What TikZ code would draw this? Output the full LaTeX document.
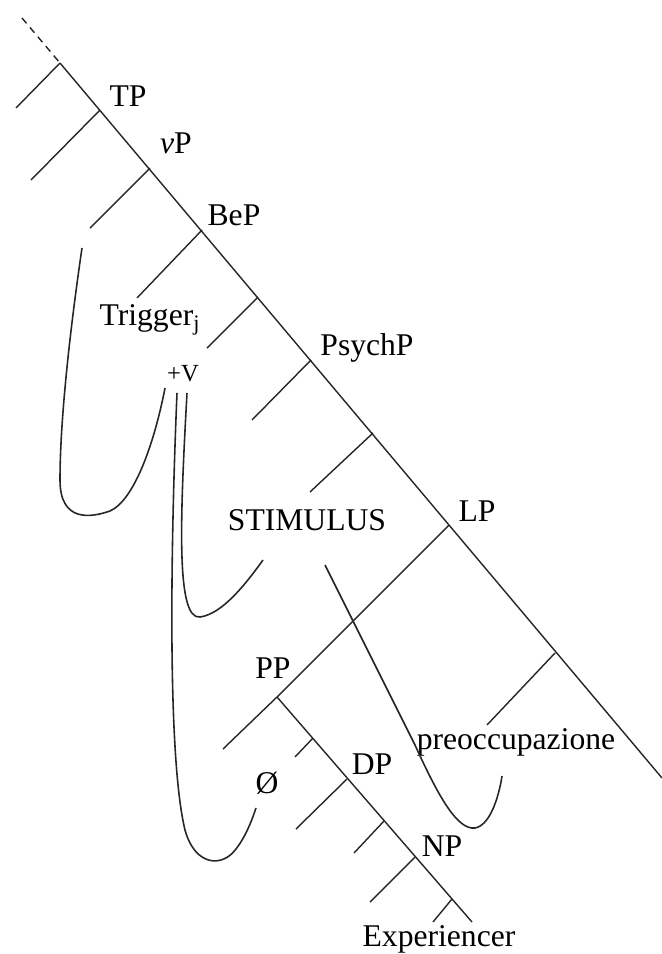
\documentclass[tikz,border=0pt]{standalone}
\usepackage{fontspec}
\setmainfont{Liberation Serif}
\usepackage{tikz}
\usetikzlibrary{positioning, calc}
\tikzset{
    branch/.style={line width=0.8pt, black!85},
    movecurve/.style={line width=0.9pt, black!85},
    lbl/.style={inner sep=0pt, font=\fontsize{18}{20}\selectfont},
    smalllbl/.style={inner sep=0pt, font=\fontsize{14}{16}\selectfont},
}
\begin{document}
\begin{tikzpicture}[x=0.02cm, y=-0.02cm]
    \useasboundingbox (0,0) rectangle (662,954);

    % Spine
    \coordinate (d0) at (22,18);
    \coordinate (s0) at (60,63);
    \coordinate (s1) at (100,110);
    \coordinate (s2) at (150,168);
    \coordinate (s3) at (202,230);
    \coordinate (s4) at (258,297);
    \coordinate (s5) at (311,360);
    \coordinate (s6) at (373,433);
    \coordinate (s7) at (449,525);
    \coordinate (s8) at (555,653);
    \coordinate (s9) at (662,778);
    \draw[branch, dash pattern=on 4pt off 3pt] (d0) -- (s0);
    \draw[branch] (s0) -- (s9);

    % Left daughters
    \coordinate (b0) at (16,108);
    \coordinate (b1) at (31,180);
    \coordinate (b2) at (90,228);
    \coordinate (b3) at (137,298);
    \coordinate (b4) at (207,348);
    \coordinate (b5) at (252,420);
    \coordinate (b6) at (310,492);
    \coordinate (b8) at (487,725);
    \foreach \i in {0,...,6} {
        \draw[branch] (s\i) -- (b\i);
    }
    \draw[branch] (s8) -- (b8);

    % PP subtree
    \coordinate (pp) at (277,697);
    \coordinate (ppl) at (223,749);
    \coordinate (pe) at (472,922);
    \draw[branch] (s7) -- (pp) -- (ppl);
    \draw[branch] (pp) -- (pe);
    \coordinate (p1) at (313,738);
    \coordinate (p2) at (347,779);
    \coordinate (p3) at (384,821);
    \coordinate (p4) at (415,857);
    \coordinate (p5) at (452,899);
    \coordinate (q1) at (295,757);
    \coordinate (q2) at (296,829);
    \coordinate (q3) at (354,853);
    \coordinate (q4) at (370,902);
    \coordinate (q5) at (433,922);
    \foreach \i in {1,...,5} {
        \draw[branch] (p\i) -- (q\i);
    }

    % Labels
    \node[lbl] (tp) at (128,96) {TP};
    \node[lbl] (vp) at (176,143) {\textit{v}P};
    \node[lbl] (bep) at (234,215) {BeP};
    \node[lbl] (trig) at (150,320) {Trigger\textsubscript{j}};
    \node[smalllbl] (plusv) at (183,374) {+V};
    \node[lbl] (psychp) at (367,348) {PsychP};
    \node[lbl] (stim) at (307,520) {STIMULUS};
    \node[lbl] (lp) at (477,511) {LP};
    \node[lbl] (pplbl) at (273,668) {PP};
    \node[lbl] (empty) at (267,783) {Ø};
    \node[lbl] (dp) at (372,764) {DP};
    \node[lbl] (np) at (442,846) {NP};
    \node[lbl] (preocc) at (516,742) {preoccupazione};
    \node[lbl] (exp) at (439,939) {Experiencer};

    % Movement curves
    \draw[movecurve] (82,248) .. controls (70,330) and (60,420) .. (60,480)
        .. controls (60,522) and (90,518) .. (110,511)
        .. controls (135,500) and (155,440) .. (165,388);
    \draw[movecurve] (187,393) .. controls (180,520) and (176,620) .. (200,617)
        .. controls (222,614) and (245,585) .. (263,560);
    \draw[movecurve] (177,393) .. controls (170,560) and (168,760) .. (185,830)
        .. controls (195,866) and (222,868) .. (236,849)
        .. controls (246,836) and (252,820) .. (256,808);
    \draw[movecurve] (325,565) -- (415,745)
        .. controls (440,800) and (458,830) .. (475,828)
        .. controls (492,825) and (500,790) .. (502,776);
\end{tikzpicture}
\end{document}
